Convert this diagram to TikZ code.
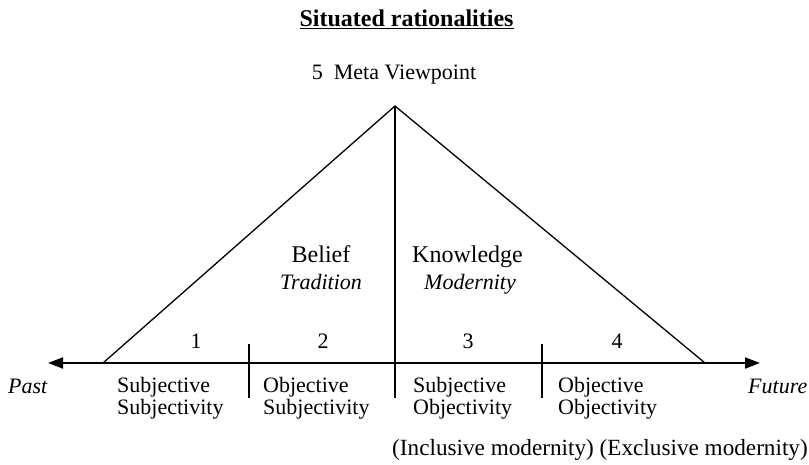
\documentclass[tikz,border=0pt]{standalone}
\usepackage{fontspec}
\setmainfont{Liberation Serif}
\usetikzlibrary{arrows.meta}
\begin{document}
\begin{tikzpicture}[x=1pt,y=-1pt,
  txt/.style={inner sep=0pt,font=\fontsize{22}{26}\selectfont},
  big/.style={inner sep=0pt,font=\fontsize{24}{28}\selectfont},
  ital/.style={inner sep=0pt,font=\fontsize{22}{26}\selectfont\itshape},
  edge/.style={line width=1.3pt},
  axisline/.style={line width=1.8pt,{Triangle[length=15pt,width=11pt]}-{Triangle[length=15pt,width=11pt]}}]
\useasboundingbox (0,0) rectangle (809,465);
% title
\node[inner sep=0pt,font=\fontsize{24}{28}\selectfont\bfseries,anchor=base] (title) at (406.5,27) {\underline{Situated rationalities}};
\node[txt,anchor=base] (meta) at (394,80) {5\ \ Meta Viewpoint};
% geometry
\coordinate (apex) at (395,106);
\coordinate (bl) at (103,363);
\coordinate (br) at (705,363);
\coordinate (pastend) at (48,363);
\coordinate (futend) at (760,363);
\coordinate (cbot) at (395,398);
\coordinate (t1top) at (249,344);
\coordinate (t1bot) at (249,398);
\coordinate (t2top) at (542,344);
\coordinate (t2bot) at (542,398);
\draw[axisline] (pastend) -- (futend);
\draw[edge] (bl) -- (apex) -- (br);
\draw[edge] (apex) -- (cbot);
\draw[edge] (t1top) -- (t1bot);
\draw[edge] (t2top) -- (t2bot);
% numbers
\node[txt,anchor=base] (n1) at (196,348) {1};
\node[txt,anchor=base] (n2) at (323,348) {2};
\node[txt,anchor=base] (n3) at (468,348) {3};
\node[txt,anchor=base] (n4) at (617,348) {4};
% belief / knowledge
\node[big,anchor=base] (belief) at (321,263) {Belief};
\node[ital,anchor=base] (trad) at (321,290) {Tradition};
\node[big,anchor=base] (know) at (467.5,263) {Knowledge};
\node[ital,anchor=base] (modern) at (470,290) {Modernity};
% lower labels
\node[txt,anchor=base west] (a1) at (117,392) {Subjective};
\node[txt,anchor=base west] (a2) at (117,414) {Subjectivity};
\node[txt,anchor=base west] (b1) at (263,392) {Objective};
\node[txt,anchor=base west] (b2) at (263,414) {Subjectivity};
\node[txt,anchor=base west] (c1) at (413,392) {Subjective};
\node[txt,anchor=base west] (c2) at (413,414) {Objectivity};
\node[txt,anchor=base west] (d1) at (558,392) {Objective};
\node[txt,anchor=base west] (d2) at (558,414) {Objectivity};
\node[ital,anchor=base west] (past) at (8,393) {Past};
\node[ital,anchor=base west] (future) at (748,393) {Future};
\node[inner sep=0pt,font=\fontsize{23.2}{27}\selectfont,anchor=base west] (mod) at (392,455) {(Inclusive modernity) (Exclusive modernity)};
\end{tikzpicture}
\end{document}
